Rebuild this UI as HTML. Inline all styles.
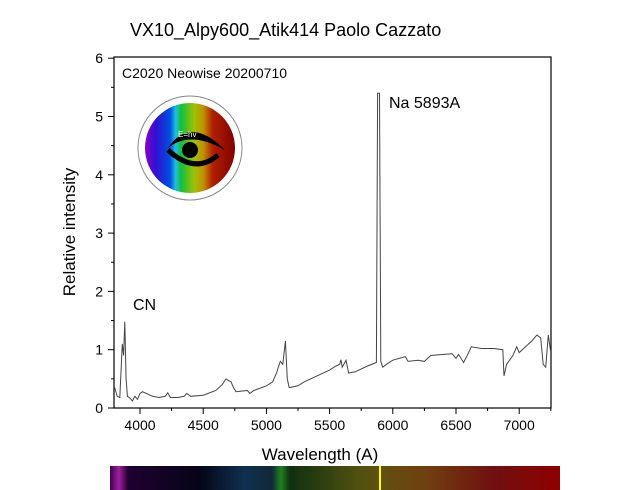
<!DOCTYPE html>
<html><head><style>body{margin:0;background:#fff}svg{display:block}</style></head>
<body>
<svg id="s" width="640" height="490" xmlns="http://www.w3.org/2000/svg" font-family="Liberation Sans, sans-serif">
<defs>
<linearGradient id="lg" x1="0" x2="1">
<stop offset="0" stop-color="#8a00c8"/><stop offset="0.12" stop-color="#3010d0"/><stop offset="0.28" stop-color="#0050e0"/><stop offset="0.34" stop-color="#20c0e0"/><stop offset="0.4" stop-color="#10c040"/><stop offset="0.55" stop-color="#a0c000"/><stop offset="0.65" stop-color="#c09000"/><stop offset="0.75" stop-color="#b02000"/><stop offset="1" stop-color="#800000"/></linearGradient>
<linearGradient id="sb" x1="0" x2="1">
<stop offset="0" stop-color="#400050"/><stop offset="0.02" stop-color="#a020a0"/><stop offset="0.04" stop-color="#200030"/><stop offset="0.2" stop-color="#050518"/><stop offset="0.3" stop-color="#103050"/><stop offset="0.36" stop-color="#102838"/><stop offset="0.38" stop-color="#208020"/><stop offset="0.4" stop-color="#103010"/><stop offset="0.55" stop-color="#505010"/><stop offset="0.6" stop-color="#605010"/><stop offset="0.7" stop-color="#704010"/><stop offset="0.85" stop-color="#701010"/><stop offset="1" stop-color="#900000"/></linearGradient>
<clipPath id="cc"><circle cx="190" cy="148" r="45"/></clipPath>
</defs>
<text x="130" y="36" font-size="18">VX10_Alpy600_Atik414 Paolo Cazzato</text>
<rect x="114" y="57" width="437" height="351" fill="none" stroke="#000" stroke-width="1.2"/>
<text x="122" y="78" font-size="14">C2020 Neowise 20200710</text>
<text x="389" y="108" font-size="16">Na 5893A</text>
<text x="133" y="310" font-size="16">CN</text>
<g id="ax" stroke="#000" stroke-width="1"></g>
<g font-size="14" id="lbl"></g>
<text x="320" y="460" font-size="17" text-anchor="middle">Wavelength (A)</text>
<text transform="translate(75,232) rotate(-90)" font-size="17" text-anchor="middle">Relative intensity</text>
<circle cx="190" cy="148" r="52" fill="#fff" stroke="#888"/>
<g clip-path="url(#cc)"><rect x="145" y="100" width="90" height="95" fill="url(#lg)"/>
<path d="M168 148 Q190 115 225 150 Q190 130 168 148Z" fill="#000"/>
<path d="M168 150 Q195 175 218 155" stroke="#000" stroke-width="5" fill="none"/>
<circle cx="190" cy="150" r="8" fill="#000"/></g>
<text x="178" y="137" font-size="8" fill="#fff">E=hv</text>
<rect x="110" y="466" width="450" height="24" fill="url(#sb)"/>
<rect x="379" y="466" width="2" height="24" fill="#ff0"/>
<polyline id="pl" fill="none" stroke="#444" stroke-width="1"/>
</svg>
<script>
var X=l=>140+(l-4000)*0.1264,Y=v=>408-v*58.3;
var d=[3800,.35,3820,.2,3840,.18,3860,1.1,3870,.9,3880,1.48,3890,.5,3900,.2,3920,.17,3940,.12,3960,.2,3980,.15,4000,.25,4020,.28,4050,.25,4100,.2,4150,.18,4200,.2,4220,.26,4240,.18,4300,.18,4350,.2,4370,.25,4400,.2,4500,.22,4600,.3,4650,.4,4680,.5,4700,.47,4720,.45,4740,.35,4760,.28,4800,.29,4850,.3,4870,.25,4900,.3,5000,.38,5050,.45,5080,.6,5110,.8,5130,.75,5150,1.15,5165,.5,5180,.35,5250,.38,5300,.45,5400,.55,5500,.65,5550,.72,5580,.75,5590,.83,5600,.7,5630,.82,5650,.6,5700,.62,5800,.72,5870,.78,5880,5.4,5895,5.4,5905,.8,5920,.7,5950,.75,6000,.82,6050,.85,6100,.88,6120,.8,6200,.82,6250,.8,6300,.9,6400,.92,6470,.93,6500,.85,6520,.92,6560,.78,6600,.95,6620,1.05,6700,1.02,6800,1.02,6870,1,6880,.55,6900,.75,6950,.9,6980,1.05,7000,.95,7050,1.05,7100,1.15,7140,1.25,7170,1.2,7190,.75,7210,.7,7230,1.25,7250,.95];
var p=[];for(var i=0;i<d.length;i+=2)p.push(X(d[i]).toFixed(1)+","+Y(d[i+1]).toFixed(1));
document.getElementById("pl").setAttribute("points",p.join(" "));
var ax="",lb="";
for(var v=0;v<=6;v++){ax+='<line x1="108" x2="114" y1="'+Y(v)+'" y2="'+Y(v)+'"/>';lb+='<text x="103" y="'+(Y(v)+5)+'" text-anchor="end">'+v+'</text>';if(v<6)ax+='<line x1="111" x2="114" y1="'+Y(v+.5)+'" y2="'+Y(v+.5)+'"/>';}
for(var l=4000;l<=7000;l+=500){ax+='<line y1="408" y2="414" x1="'+X(l)+'" x2="'+X(l)+'"/>';lb+='<text y="430" x="'+X(l)+'" text-anchor="middle">'+l+'</text>';ax+='<line y1="408" y2="411" x1="'+X(l+250)+'" x2="'+X(l+250)+'"/>';}
document.getElementById("ax").innerHTML=ax;document.getElementById("lbl").innerHTML=lb;
</script>
</body></html>
